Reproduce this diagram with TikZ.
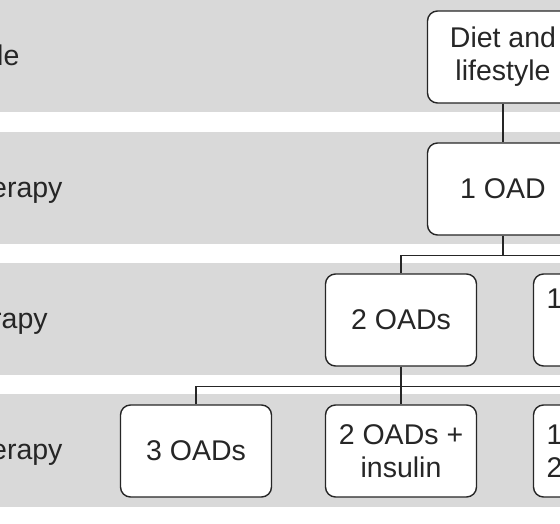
\documentclass[tikz,border=0pt]{standalone}
\usepackage{fontspec}
\setmainfont{Liberation Sans}
\definecolor{band}{RGB}{217,217,217}
\definecolor{ink}{RGB}{38,38,38}

\begin{document}
\begin{tikzpicture}[
   x=1pt,y=-1pt,
   font=\fontsize{28.5}{33}\selectfont,
   every node/.style={text=ink},
   box/.style={draw=ink,line width=1.4pt,fill=white,rounded corners=10pt,minimum width=151pt,minimum height=92pt,align=center,inner sep=2pt},
   cut/.style={box,align=left,text width=125pt,inner xsep=13pt},
   lbl/.style={anchor=base west,inner sep=0pt},
   to/.style={draw=ink,line width=1.4pt}]
\useasboundingbox (0,0) rectangle (560,524);
\clip (0,0) rectangle (560,524);
% stage bands
\fill[band] (-5,-5) rectangle (570,112);
\fill[band] (-5,132) rectangle (570,244);
\fill[band] (-5,263) rectangle (570,375);
\fill[band] (-5,394) rectangle (570,507);
% stage labels
\node[lbl] (lab1) at (-3,66) {le};
\node[lbl] (lab2) at (-9,197) {erapy};
\node[lbl] (lab3) at (-8,328) {rapy};
\node[lbl] (lab4) at (-9,459) {erapy};
% boxes
\node[box] (diet) at (503,57) {Diet and\\lifestyle};
\node[box] (oad1) at (503,189) {1 OAD};
\node[box] (oads2) at (401,320) {2 OADs};
\node[cut] (opt3) at (609,320) {1\\\strut};
\node[box] (oads3) at (196,451) {3 OADs};
\node[box] (ins) at (401,451) {2 OADs +\\insulin};
\node[cut] (opt4) at (609,451) {1\\2};
% connectors
\draw[to] (diet.south) -- (oad1.north);
\draw[to] (oad1.south) -- ++(0,20) coordinate (fork1);
\draw[to] (oads2.north) |- (fork1) -| (opt3.north);
\draw[to] (oads2.south) -- (ins.north);
\path (oads2.south) ++(0,20) coordinate (fork2);
\draw[to] (oads3.north) |- (fork2) -| (opt4.north);
\end{tikzpicture}
\end{document}
